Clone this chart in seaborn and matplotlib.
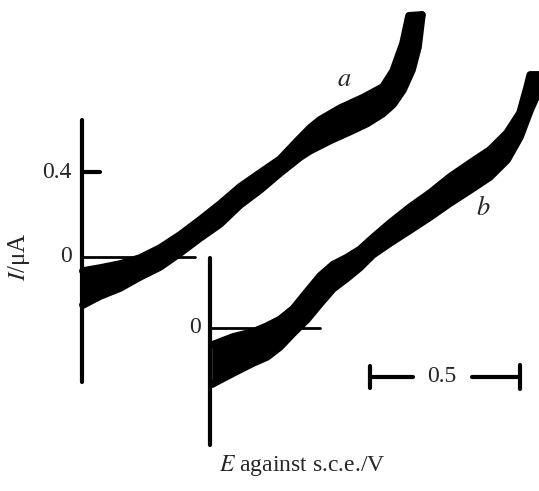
import matplotlib
matplotlib.use("Agg")
import matplotlib.pyplot as plt
import seaborn as sns
import pandas as pd

sns.set_theme(style="white")
plt.rcParams['font.family'] = ['Liberation Serif', 'DejaVu Serif']
plt.rcParams['mathtext.fontset'] = 'stix'

# Trace a (noisy band): upper and lower edges; E in V from own axis, I in uA
Ea_up = [0.003, 0.060, 0.127, 0.193, 0.260, 0.327, 0.393, 0.460, 0.527, 0.593, 0.660, 0.717, 0.760, 0.793, 0.860, 0.937, 1.003, 1.037, 1.070, 1.090, 1.133]
Ia_up = [-0.066, -0.052, -0.033, -0.005, 0.042, 0.104, 0.174, 0.249, 0.330, 0.395, 0.460, 0.545, 0.607, 0.645, 0.700, 0.750, 0.800, 0.875, 1.005, 1.135, 1.139]
Ea_lo = [0.003, 0.060, 0.127, 0.193, 0.260, 0.327, 0.393, 0.460, 0.527, 0.593, 0.660, 0.727, 0.760, 0.827, 0.893, 0.950, 1.003, 1.037, 1.070, 1.100, 1.120, 1.133]
Ia_lo = [-0.226, -0.184, -0.146, -0.094, -0.047, 0.019, 0.089, 0.155, 0.245, 0.315, 0.395, 0.470, 0.500, 0.548, 0.590, 0.628, 0.675, 0.718, 0.786, 0.880, 0.988, 1.139]

# Trace b (relative to its own axis)
Eb_up = [0.007, 0.077, 0.143, 0.190, 0.233, 0.277, 0.323, 0.367, 0.410, 0.457, 0.500, 0.543, 0.600, 0.667, 0.733, 0.800, 0.867, 0.933, 0.990, 1.033, 1.057, 1.067, 1.097]
Ib_up = [-0.080, -0.042, -0.019, 0.009, 0.040, 0.090, 0.170, 0.245, 0.298, 0.332, 0.370, 0.425, 0.494, 0.569, 0.635, 0.711, 0.776, 0.838, 0.918, 1.012, 1.134, 1.191, 1.191]
Eb_lo = [0.007, 0.077, 0.143, 0.190, 0.233, 0.277, 0.323, 0.367, 0.410, 0.457, 0.500, 0.543, 0.600, 0.667, 0.733, 0.800, 0.867, 0.933, 0.990, 1.033, 1.067, 1.097]
Ib_lo = [-0.264, -0.212, -0.165, -0.136, -0.089, -0.024, 0.040, 0.115, 0.185, 0.235, 0.285, 0.345, 0.400, 0.461, 0.522, 0.588, 0.649, 0.711, 0.791, 0.899, 1.026, 1.120]

# offsets of trace b's axes relative to trace a
dx_b, dy_b = 0.427, -0.334
ticks_a = [0.0, 0.4]
scale_bar = 0.5

fig = plt.figure(figsize=(5.39, 4.91), dpi=100)
ax = fig.add_axes([0, 0, 1, 1])
ax.set_xlim(-82/300, (539-82)/300)
ax.set_ylim((257-491)/212.5, 257/212.5)
ax.axis('off')
k = 'black'


def band(E_up, I_up, E_lo, I_lo, dx, dy):
    xs = [e + dx for e in E_up] + [e + dx for e in E_lo[::-1]]
    ys = [i + dy for i in I_up] + [i + dy for i in I_lo[::-1]]
    ax.fill(xs, ys, color=k, lw=0)
    for E, I in ((E_up, I_up), (E_lo, I_lo)):
        df = pd.DataFrame({'E': [e + dx for e in E], 'I': [i + dy for i in I]})
        sns.lineplot(data=df, x='E', y='I', sort=False, color=k, lw=5.5, ax=ax)


band(Ea_up, Ia_up, Ea_lo, Ia_lo, 0.0, 0.0)
band(Eb_up, Ib_up, Eb_lo, Ib_lo, dx_b, dy_b)

# axis a
ax.plot([0, 0], [(257-120)/212.5, (257-382)/212.5], color=k, lw=3)
ax.plot([0, (195-82)/300], [0, 0], color=k, lw=2)
ax.plot([0, 18/300], [0.4, 0.4], color=k, lw=3)
ax.text(-0.035, 0.4, '0.4', ha='right', va='center', fontsize=17)
ax.text(-0.035, 0.0, '0', ha='right', va='center', fontsize=17)

# axis b
ax.plot([dx_b, dx_b], [dy_b + (328-258)/212.5, dy_b + (328-445)/212.5], color=k, lw=3)
ax.plot([dx_b, dx_b + (320-210)/300], [dy_b, dy_b], color=k, lw=2)
ax.text(dx_b - 0.03, dy_b, '0', ha='right', va='center', fontsize=17)

# labels
ax.text((19-82)/300, (257-257)/212.5, r'$I$/μA', rotation=90, ha='center', va='center', fontsize=18)
ax.text((344-82)/300, (257-80)/212.5, r'$a$', ha='center', va='center', fontsize=19)
ax.text((483-82)/300, (257-208)/212.5, r'$b$', ha='center', va='center', fontsize=19)
ax.text((302-82)/300, (257-466)/212.5, r'$E$ against s.c.e./V', ha='center', va='center', fontsize=17)

# scale bar
x0 = (370-82)/300
yb = (257-377)/212.5
ax.plot([x0, x0 + 43/300], [yb, yb], color=k, lw=3)
ax.plot([x0 + scale_bar - 48/300, x0 + scale_bar], [yb, yb], color=k, lw=3)
ax.plot([x0, x0], [yb - 11/212.5, yb + 11/212.5], color=k, lw=3)
ax.plot([x0 + scale_bar, x0 + scale_bar], [yb - 12/212.5, yb + 12/212.5], color=k, lw=3)
ax.text(x0 + scale_bar/2 - 0.01, yb, '0.5', ha='center', va='center', fontsize=17)

fig.savefig('out.png', dpi=100)
